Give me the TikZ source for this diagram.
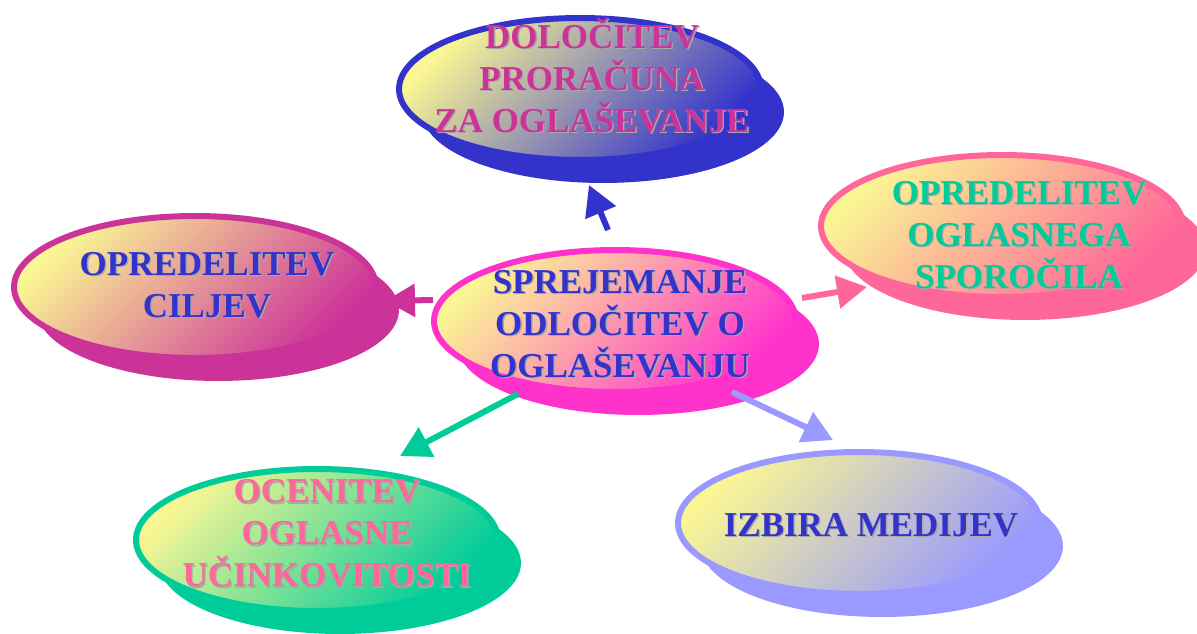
\documentclass[tikz,border=0pt]{standalone}
\usepackage{fontspec}
\setmainfont{Liberation Serif}
\usetikzlibrary{shapes.geometric, arrows.meta, shadows}

\definecolor{paleyellow}{HTML}{FAF694}
\definecolor{royal}{HTML}{3333CC}
\definecolor{hotpink}{HTML}{FF33CC}
\definecolor{plum}{HTML}{CC3399}
\definecolor{rose}{HTML}{FF6699}
\definecolor{jade}{HTML}{00CC99}
\definecolor{lilac}{HTML}{9999FF}
\definecolor{lettershade}{HTML}{A8A8A8}

\tikzset{
  bubble/.style={ellipse, inner sep=0pt, minimum width=7.24cm, minimum height=2.84cm,
    line width=0.12cm, draw=#1, top color=paleyellow, bottom color=#1, shading angle=45,
    drop shadow={shadow xshift=0.46cm, shadow yshift=-0.46cm, fill=#1, opacity=1}},
  caption/.style={font=\bfseries\fontsize{19.9}{23.9}\selectfont, align=center, inner sep=0pt},
  link/.style={draw=#1, line width=0.12cm, -{Triangle[length=0.6cm, width=0.64cm]}},
}

% caption with a soft grey drop behind the letters: name, position, colour, text
\newcommand\shadedcaption[4]{%
  \node[caption, text=lettershade, xshift=0.028cm, yshift=-0.028cm] (#1-drop) at #2 {#4};
  \node[caption, text=#3] (#1) at #2 {#4};
}

\begin{document}
\begin{tikzpicture}[x=0.02cm, y=-0.02cm]
  \useasboundingbox (0,0) rectangle (1197,634);

  % ellipses
  \node[bubble=royal]   (budget)   at (580,89)   {};
  \node[bubble=hotpink] (decision) at (615,321)  {};
  \node[bubble=plum]    (goals)    at (195,287)  {};
  \node[bubble=rose]    (message)  at (1002,226) {};
  \node[bubble=jade]    (review)   at (317,540)  {};
  \node[bubble=lilac]   (media)    at (859,523)  {};

  % connector ends
  \coordinate (budget-in)  at (589,185);
  \coordinate (goals-in)   at (385,301);
  \coordinate (message-in) at (867,287);
  \coordinate (review-in)  at (400,456);
  \coordinate (media-in)   at (833,440);
  \coordinate (up-out)     at (608,230);
  \coordinate (left-out)   at (433,300);
  \coordinate (right-out)  at (802,298);
  \coordinate (low-out)    at (518,394);
  \coordinate (high-out)   at (732,392);

  \draw[link=royal] (up-out)    -- (budget-in);
  \draw[link=plum]  (left-out)  -- (goals-in);
  \draw[link=rose]  (right-out) -- (message-in);
  \draw[link=jade]  (low-out)   -- (review-in);
  \draw[link=lilac] (high-out)  -- (media-in);

  % captions
  \shadedcaption{budget-text}{(592,75.5)}{plum}{DOLOČITEV\\PRORAČUNA\\ZA OGLAŠEVANJE}
  \shadedcaption{decision-text}{(620,324)}{royal}{SPREJEMANJE\\ODLOČITEV O\\OGLAŠEVANJU}
  \shadedcaption{goals-text}{(207,285)}{royal}{OPREDELITEV\\CILJEV}
  \shadedcaption{message-text}{(1019,235)}{jade}{OPREDELITEV\\OGLASNEGA\\SPOROČILA}
  \shadedcaption{review-text}{(327,533.5)}{rose}{OCENITEV\\OGLASNE\\UČINKOVITOSTI}
  \shadedcaption{media-text}{(871,525)}{royal}{IZBIRA MEDIJEV}
\end{tikzpicture}
\end{document}
